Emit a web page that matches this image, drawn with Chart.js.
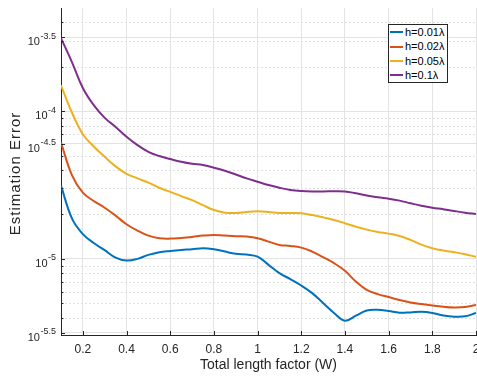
<!DOCTYPE html>
<html><head><meta charset="utf-8">
<script src="https://cdn.jsdelivr.net/npm/chart.js@4/dist/chart.umd.min.js"></script>
<style>
html,body{margin:0;padding:0;background:#fff;overflow:hidden;}
#wrap{position:relative;width:477px;height:376px;}
#legend{position:absolute;left:388px;top:24px;width:60px;height:59px;border:1px solid #262626;background:#fff;
  font:11px "Liberation Sans",Arial,sans-serif;color:#000;box-sizing:border-box;padding-top:0px;}
.item{height:14.4px;line-height:14.4px;display:flex;align-items:center;white-space:nowrap;}
.sw{width:13px;height:2px;margin-left:1px;margin-right:2px;flex:none;}
</style></head>
<body><div id="wrap"><canvas id="c" width="477" height="376"></canvas><div id="legend"></div></div>
<script>
// ---- data ----
const xValues = [0.10,0.15,0.20,0.25,0.30,0.35,0.40,0.45,0.50,0.55,0.60,0.65,0.70,
                 0.75,0.80,0.85,0.90,0.95,1.00,1.05,1.10,1.15,1.20,1.25,1.30,1.35,
                 1.40,1.45,1.50,1.55,1.60,1.65,1.70,1.75,1.80,1.85,1.90,1.95,2.00];
const seriesNames = ['h=0.01λ','h=0.02λ','h=0.05λ','h=0.1λ'];
const errH001 = [3.13e-5,1.88e-5,1.47e-5,1.28e-5,1.145e-5,1.02e-5,9.74e-6,1.0e-5,1.064e-5,1.11e-5,1.132e-5,1.15e-5,1.163e-5,
                 1.181e-5,1.163e-5,1.12e-5,1.081e-5,1.069e-5,1.036e-5,9.11e-6,8.0e-6,7.29e-6,6.6e-6,5.86e-6,5.02e-6,4.3e-6,
                 3.81e-6,4.12e-6,4.47e-6,4.52e-6,4.43e-6,4.32e-6,4.34e-6,4.38e-6,4.3e-6,4.14e-6,4.06e-6,4.08e-6,4.3e-6];
const errH002 = [6.14e-5,3.69e-5,2.805e-5,2.465e-5,2.22e-5,1.962e-5,1.716e-5,1.553e-5,1.437e-5,1.38e-5,1.371e-5,1.386e-5,1.408e-5,
                 1.437e-5,1.453e-5,1.437e-5,1.423e-5,1.415e-5,1.38e-5,1.309e-5,1.243e-5,1.224e-5,1.192e-5,1.12e-5,1.027e-5,9.35e-6,
                 8.3e-6,7.02e-6,6.17e-6,5.77e-6,5.51e-6,5.26e-6,5.07e-6,4.94e-6,4.83e-6,4.74e-6,4.69e-6,4.72e-6,4.87e-6];
const errH005 = [1.498e-4,9.8e-5,6.99e-5,5.77e-5,4.91e-5,4.23e-5,3.77e-5,3.51e-5,3.28e-5,3.03e-5,2.84e-5,2.66e-5,2.5e-5,
                 2.31e-5,2.14e-5,2.055e-5,2.046e-5,2.08e-5,2.1e-5,2.08e-5,2.046e-5,2.046e-5,2.04e-5,1.98e-5,1.91e-5,1.835e-5,
                 1.743e-5,1.652e-5,1.578e-5,1.522e-5,1.482e-5,1.43e-5,1.344e-5,1.249e-5,1.181e-5,1.138e-5,1.11e-5,1.076e-5,1.031e-5];
const errH01  = [3.126e-4,2.153e-4,1.437e-4,1.098e-4,9.01e-5,7.83e-5,6.71e-5,5.89e-5,5.31e-5,4.97e-5,4.74e-5,4.54e-5,4.4e-5,
                 4.32e-5,4.14e-5,3.95e-5,3.73e-5,3.51e-5,3.33e-5,3.16e-5,3.03e-5,2.93e-5,2.88e-5,2.86e-5,2.86e-5,2.87e-5,
                 2.86e-5,2.78e-5,2.69e-5,2.61e-5,2.555e-5,2.48e-5,2.38e-5,2.29e-5,2.22e-5,2.17e-5,2.11e-5,2.055e-5,2.01e-5];
const xTickValues = [0.2,0.4,0.6,0.8,1.0,1.2,1.4,1.6,1.8,2.0];
const yTickValues = [3.1623e-6,1e-5,6e-5,1e-4,3.1623e-4];
const yTickExponents = ['-5.5','-5','-4.5','-4','-3.5'];
const yMinorValues = [4e-6,5e-6,6e-6,7e-6,8e-6,9e-6,2e-5,3e-5,4e-5,5e-5,7e-5,8e-5,9e-5,2e-4,3e-4,4e-4];
const yTitle = 'Estimation Error';
const xTitle = 'Total length factor (W)';
const colors = ['#0072BD','#D95319','#EDB120','#7E2F8E'];
// ---------------

const allSeries = [errH001, errH002, errH005, errH01];
const FONT = '"Liberation Sans", Arial, Helvetica, sans-serif';
const AX = '#262626';

const decor = {
  id: 'decor',
  beforeDatasetsDraw(chart) {
    const {ctx, chartArea: a, scales: {x, y}} = chart;
    ctx.save();
    ctx.strokeStyle = '#e0e0e0';
    ctx.lineWidth = 1;
    ctx.setLineDash([2, 2]);
    yMinorValues.forEach(v => {
      const py = Math.round(y.getPixelForValue(v)) + 0.5;
      ctx.beginPath(); ctx.moveTo(a.left, py); ctx.lineTo(a.right, py); ctx.stroke();
    });
    ctx.restore();
  },
  afterDatasetsDraw(chart) {
    const {ctx, chartArea: a, scales: {x, y}} = chart;
    ctx.save();
    ctx.strokeStyle = AX; ctx.lineWidth = 1;
    xTickValues.forEach(v => {
      const px = Math.round(x.getPixelForValue(v)) + 0.5;
      ctx.beginPath(); ctx.moveTo(px, a.bottom); ctx.lineTo(px, a.bottom - 4); ctx.stroke();
    });
    yTickValues.forEach(v => {
      const py = Math.round(y.getPixelForValue(v)) + 0.5;
      ctx.beginPath(); ctx.moveTo(a.left, py); ctx.lineTo(a.left + 4, py); ctx.stroke();
    });
    yMinorValues.forEach(v => {
      const py = Math.round(y.getPixelForValue(v)) + 0.5;
      ctx.beginPath(); ctx.moveTo(a.left, py); ctx.lineTo(a.left + 2.5, py); ctx.stroke();
    });
    // y tick labels with superscript exponents
    ctx.fillStyle = AX;
    ctx.textBaseline = 'alphabetic';
    yTickValues.forEach((v, i) => {
      const py = y.getPixelForValue(v);
      const right = a.left - 5;
      ctx.font = '9px ' + FONT;
      ctx.textAlign = 'right';
      const ew = ctx.measureText(yTickExponents[i]).width;
      ctx.fillText(yTickExponents[i], right, py + 1.5);
      ctx.font = '11px ' + FONT;
      ctx.fillText('10', right - ew - 0.5, py + 8);
    });
    // y axis title
    ctx.translate(15.5, (a.top + a.bottom) / 2 + 2);
    ctx.rotate(-Math.PI / 2);
    ctx.font = '15px ' + FONT;
    try { ctx.letterSpacing = '1px'; } catch (e) {}
    ctx.textAlign = 'center';
    ctx.textBaseline = 'middle';
    ctx.fillText(yTitle, 0, 0);
    ctx.restore();
  }
};

new Chart(document.getElementById('c'), {
  type: 'line',
  data: {
    datasets: allSeries.map((s, i) => ({
      label: seriesNames[i],
      data: xValues.map((xv, j) => ({x: xv, y: s[j]})),
      borderColor: colors[i],
      backgroundColor: colors[i],
      borderWidth: 2,
      pointRadius: 0,
      tension: 0.4,
      fill: false
    }))
  },
  options: {
    responsive: false,
    devicePixelRatio: 1,
    animation: false,
    layout: {padding: {top: 8, right: 1, left: 0, bottom: 0}},
    plugins: {legend: {display: false}, tooltip: {enabled: false}},
    scales: {
      x: {
        type: 'linear', min: 0.1, max: 2,
        afterBuildTicks: s => { s.ticks = xTickValues.map(v => ({value: v})); },
        afterFit: s => { s.height = 41; s.paddingLeft = 0; s.paddingRight = 0; },
        ticks: {
          color: AX, font: {family: FONT, size: 12}, padding: 7, maxRotation: 0, autoSkip: false,
          callback: v => String(+(+v).toFixed(1))
        },
        grid: {color: '#e3e3e3', drawTicks: false, lineWidth: 1},
        border: {color: AX, width: 1},
        title: {display: true, text: xTitle, color: AX,
                font: {family: FONT, size: 14}, padding: {top: 0, bottom: 2}}
      },
      y: {
        type: 'logarithmic', min: 3.05e-6, max: 5e-4,
        afterBuildTicks: s => { s.ticks = yTickValues.map(v => ({value: v})); },
        afterFit: s => { s.width = 61; s.paddingTop = 0; s.paddingBottom = 0; },
        ticks: {display: false},
        grid: {color: '#e3e3e3', drawTicks: false, lineWidth: 1},
        border: {color: AX, width: 1},
        title: {display: false}
      }
    }
  },
  plugins: [decor]
});

const lg = document.getElementById('legend');
seriesNames.forEach((n, i) => {
  const d = document.createElement('div'); d.className = 'item';
  const sw = document.createElement('span'); sw.className = 'sw'; sw.style.background = colors[i];
  const t = document.createElement('span'); t.textContent = n;
  d.appendChild(sw); d.appendChild(t); lg.appendChild(d);
});
</script>
</body></html>
